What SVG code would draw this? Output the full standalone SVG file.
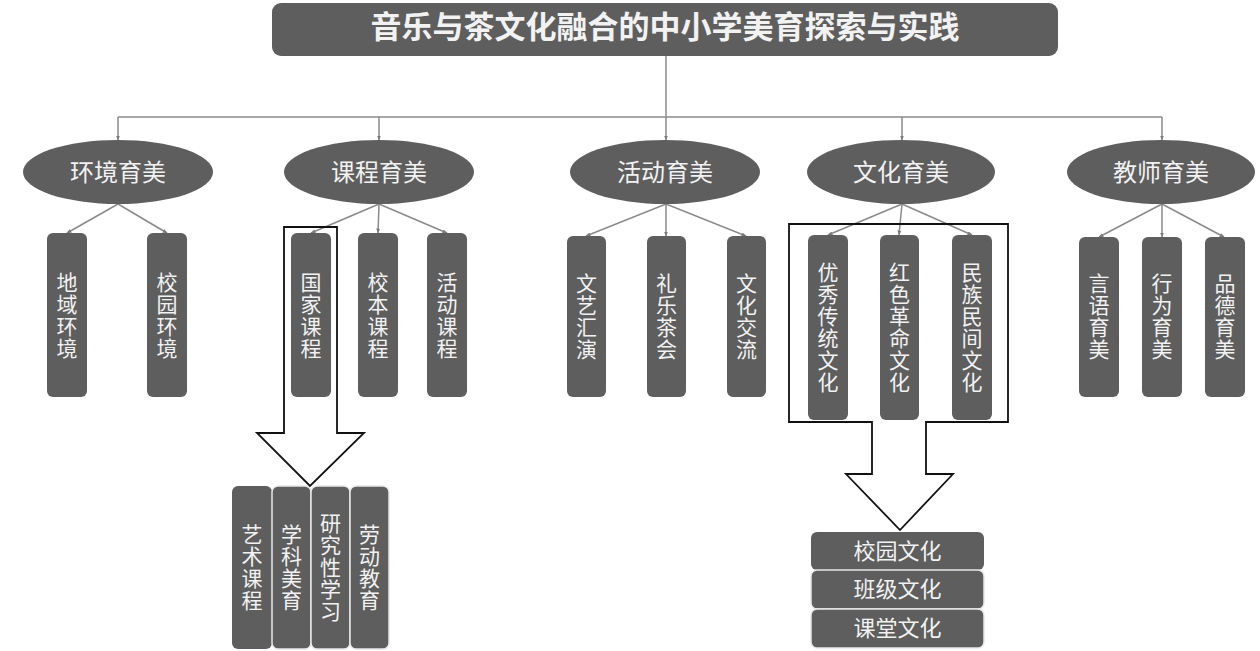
<svg xmlns="http://www.w3.org/2000/svg" width="1260" height="651" viewBox="0 0 1260 651">
<style>
.bg{fill:#ffffff}
.node{fill:#5e5e5e}
.t{font-family:"Noto Sans CJK SC","Noto Sans",sans-serif;fill:#f2f2f2;text-anchor:middle}
.title{font-size:31px;font-weight:700}
.el{font-size:24px;font-weight:400}
.v{font-size:21px;font-weight:400}
.h{font-size:22px;font-weight:400}
.c{fill:none;stroke:#8a8a8a;stroke-width:1.5}
.br{fill:none;stroke:#111111;stroke-width:1.8}
.sep{stroke:#e8e8e8;stroke-width:1.5}
</style>
<defs>
<marker id="ah" viewBox="0 0 10 10" refX="9" refY="5" markerWidth="5" markerHeight="5" orient="auto" markerUnits="userSpaceOnUse">
<path d="M0,1 L10,5 L0,9 z" fill="#7a7a7a"/>
</marker>
</defs>
<rect class="bg" x="0" y="0" width="1260" height="651"/>

<g id="connectors">
<path class="c" d="M666,56 V117 M118,117 H1162"/>
<path class="c" d="M118,117 V140" marker-end="url(#ah)"/>
<path class="c" d="M379,117 V140" marker-end="url(#ah)"/>
<path class="c" d="M666,117 V140" marker-end="url(#ah)"/>
<path class="c" d="M902,117 V140" marker-end="url(#ah)"/>
<path class="c" d="M1162,117 V140" marker-end="url(#ah)"/>
<path class="c" d="M118,204 L67,233" marker-end="url(#ah)"/>
<path class="c" d="M118,204 L167,233" marker-end="url(#ah)"/>
<path class="c" d="M379,204 L311,233" marker-end="url(#ah)"/>
<path class="c" d="M379,204 L378,233" marker-end="url(#ah)"/>
<path class="c" d="M379,204 L447,233" marker-end="url(#ah)"/>
<path class="c" d="M666,204 L586,236" marker-end="url(#ah)"/>
<path class="c" d="M666,204 L666,236" marker-end="url(#ah)"/>
<path class="c" d="M666,204 L746,236" marker-end="url(#ah)"/>
<path class="c" d="M902,204 L828,235" marker-end="url(#ah)"/>
<path class="c" d="M902,204 L899,235" marker-end="url(#ah)"/>
<path class="c" d="M902,204 L972,235" marker-end="url(#ah)"/>
<path class="c" d="M1162,204 L1099,237" marker-end="url(#ah)"/>
<path class="c" d="M1162,204 L1162,237" marker-end="url(#ah)"/>
<path class="c" d="M1162,204 L1224,237" marker-end="url(#ah)"/>
</g>

<g id="title">
<rect class="node" x="272" y="3" width="786" height="53" rx="9"/>
<text class="t title" x="665" y="38">音乐与茶文化融合的中小学美育探索与实践</text>
</g>

<g id="n-huanjing">
<ellipse class="node" cx="118" cy="172" rx="95" ry="32"/>
<text class="t el" x="118" y="180.5">环境育美</text>
</g>
<g id="n-kecheng">
<ellipse class="node" cx="379" cy="172" rx="95" ry="32"/>
<text class="t el" x="379" y="180.5">课程育美</text>
</g>
<g id="n-huodong">
<ellipse class="node" cx="665" cy="172" rx="95" ry="32"/>
<text class="t el" x="665" y="180.5">活动育美</text>
</g>
<g id="n-wenhua">
<ellipse class="node" cx="901" cy="172" rx="94" ry="32"/>
<text class="t el" x="901" y="180.5">文化育美</text>
</g>
<g id="n-jiaoshi">
<ellipse class="node" cx="1161" cy="172" rx="94" ry="32"/>
<text class="t el" x="1161" y="180.5">教师育美</text>
</g>

<g id="n-diyu">
<rect class="node" x="47" y="233" width="40" height="164" rx="6"/>
<text class="t v"><tspan x="67" y="289.5">地</tspan><tspan x="67" y="311.5">域</tspan><tspan x="67" y="333.5">环</tspan><tspan x="67" y="355.5">境</tspan></text>
</g>
<g id="n-xiaoyuan">
<rect class="node" x="147" y="233" width="40" height="164" rx="6"/>
<text class="t v"><tspan x="167" y="289.5">校</tspan><tspan x="167" y="311.5">园</tspan><tspan x="167" y="333.5">环</tspan><tspan x="167" y="355.5">境</tspan></text>
</g>

<g id="n-guojia">
<rect class="node" x="291" y="233" width="40" height="164" rx="6"/>
<text class="t v"><tspan x="311" y="289.5">国</tspan><tspan x="311" y="311.5">家</tspan><tspan x="311" y="333.5">课</tspan><tspan x="311" y="355.5">程</tspan></text>
</g>
<g id="n-xiaoben">
<rect class="node" x="358" y="233" width="40" height="164" rx="6"/>
<text class="t v"><tspan x="378" y="289.5">校</tspan><tspan x="378" y="311.5">本</tspan><tspan x="378" y="333.5">课</tspan><tspan x="378" y="355.5">程</tspan></text>
</g>
<g id="n-huodongkc">
<rect class="node" x="427" y="233" width="40" height="164" rx="6"/>
<text class="t v"><tspan x="447" y="289.5">活</tspan><tspan x="447" y="311.5">动</tspan><tspan x="447" y="333.5">课</tspan><tspan x="447" y="355.5">程</tspan></text>
</g>

<g id="n-wenyi">
<rect class="node" x="567" y="236" width="39" height="161" rx="6"/>
<text class="t v"><tspan x="586.5" y="290.5">文</tspan><tspan x="586.5" y="312.5">艺</tspan><tspan x="586.5" y="334.5">汇</tspan><tspan x="586.5" y="356.5">演</tspan></text>
</g>
<g id="n-liyue">
<rect class="node" x="647" y="236" width="39" height="161" rx="6"/>
<text class="t v"><tspan x="666.5" y="290.5">礼</tspan><tspan x="666.5" y="312.5">乐</tspan><tspan x="666.5" y="334.5">茶</tspan><tspan x="666.5" y="356.5">会</tspan></text>
</g>
<g id="n-jiaoliu">
<rect class="node" x="727" y="236" width="39" height="161" rx="6"/>
<text class="t v"><tspan x="746.5" y="290.5">文</tspan><tspan x="746.5" y="312.5">化</tspan><tspan x="746.5" y="334.5">交</tspan><tspan x="746.5" y="356.5">流</tspan></text>
</g>

<g id="n-youxiu">
<rect class="node" x="808" y="235" width="40" height="185" rx="6"/>
<text class="t v"><tspan x="828" y="280">优</tspan><tspan x="828" y="302">秀</tspan><tspan x="828" y="324">传</tspan><tspan x="828" y="346">统</tspan><tspan x="828" y="368">文</tspan><tspan x="828" y="390">化</tspan></text>
</g>
<g id="n-hongse">
<rect class="node" x="880" y="235" width="39" height="185" rx="6"/>
<text class="t v"><tspan x="899.5" y="280">红</tspan><tspan x="899.5" y="302">色</tspan><tspan x="899.5" y="324">革</tspan><tspan x="899.5" y="346">命</tspan><tspan x="899.5" y="368">文</tspan><tspan x="899.5" y="390">化</tspan></text>
</g>
<g id="n-minzu">
<rect class="node" x="952" y="235" width="40" height="185" rx="6"/>
<text class="t v"><tspan x="972" y="280">民</tspan><tspan x="972" y="302">族</tspan><tspan x="972" y="324">民</tspan><tspan x="972" y="346">间</tspan><tspan x="972" y="368">文</tspan><tspan x="972" y="390">化</tspan></text>
</g>

<g id="n-yanyu">
<rect class="node" x="1079" y="237" width="40" height="160" rx="6"/>
<text class="t v"><tspan x="1099" y="290.5">言</tspan><tspan x="1099" y="312.5">语</tspan><tspan x="1099" y="334.5">育</tspan><tspan x="1099" y="356.5">美</tspan></text>
</g>
<g id="n-xingwei">
<rect class="node" x="1142" y="237" width="40" height="160" rx="6"/>
<text class="t v"><tspan x="1162" y="290.5">行</tspan><tspan x="1162" y="312.5">为</tspan><tspan x="1162" y="334.5">育</tspan><tspan x="1162" y="356.5">美</tspan></text>
</g>
<g id="n-pinde">
<rect class="node" x="1205" y="237" width="40" height="160" rx="6"/>
<text class="t v"><tspan x="1225" y="290.5">品</tspan><tspan x="1225" y="312.5">德</tspan><tspan x="1225" y="334.5">育</tspan><tspan x="1225" y="356.5">美</tspan></text>
</g>

<g id="bracket-kecheng">
<polygon class="br" points="284,227 337,227 337,433 364,433 310,486 257,433 284,433"/>
</g>
<g id="bracket-wenhua">
<polygon class="br" points="789,224 1008,224 1008,422 926,422 926,474 953,474 900,530 846,474 872,474 872,422 789,422"/>
</g>

<g id="n-yishu">
<rect class="node" x="232" y="486" width="40" height="163" rx="6"/>
<text class="t v"><tspan x="252" y="542">艺</tspan><tspan x="252" y="564">术</tspan><tspan x="252" y="586">课</tspan><tspan x="252" y="608">程</tspan></text>
</g>
<g id="n-xueke">
<rect class="node sep" x="272" y="486" width="39" height="163" rx="6"/>
<text class="t v"><tspan x="291.5" y="542">学</tspan><tspan x="291.5" y="564">科</tspan><tspan x="291.5" y="586">美</tspan><tspan x="291.5" y="608">育</tspan></text>
</g>
<g id="n-yanjiu">
<rect class="node sep" x="311" y="486" width="39" height="163" rx="6"/>
<text class="t v"><tspan x="330.5" y="531">研</tspan><tspan x="330.5" y="553">究</tspan><tspan x="330.5" y="575">性</tspan><tspan x="330.5" y="597">学</tspan><tspan x="330.5" y="619">习</tspan></text>
</g>
<g id="n-laodong">
<rect class="node sep" x="350" y="486" width="39" height="163" rx="6"/>
<text class="t v"><tspan x="369.5" y="542">劳</tspan><tspan x="369.5" y="564">动</tspan><tspan x="369.5" y="586">教</tspan><tspan x="369.5" y="608">育</tspan></text>
</g>

<g id="n-xiaoyuanwh">
<rect class="node" x="811" y="532" width="173" height="38" rx="6"/>
<text class="t h" x="897.5" y="558.5">校园文化</text>
</g>
<g id="n-banji">
<rect class="node sep" x="811" y="570" width="173" height="39" rx="6"/>
<text class="t h" x="897.5" y="597">班级文化</text>
</g>
<g id="n-ketang">
<rect class="node sep" x="811" y="609" width="173" height="39" rx="6"/>
<text class="t h" x="897.5" y="636">课堂文化</text>
</g>
</svg>
